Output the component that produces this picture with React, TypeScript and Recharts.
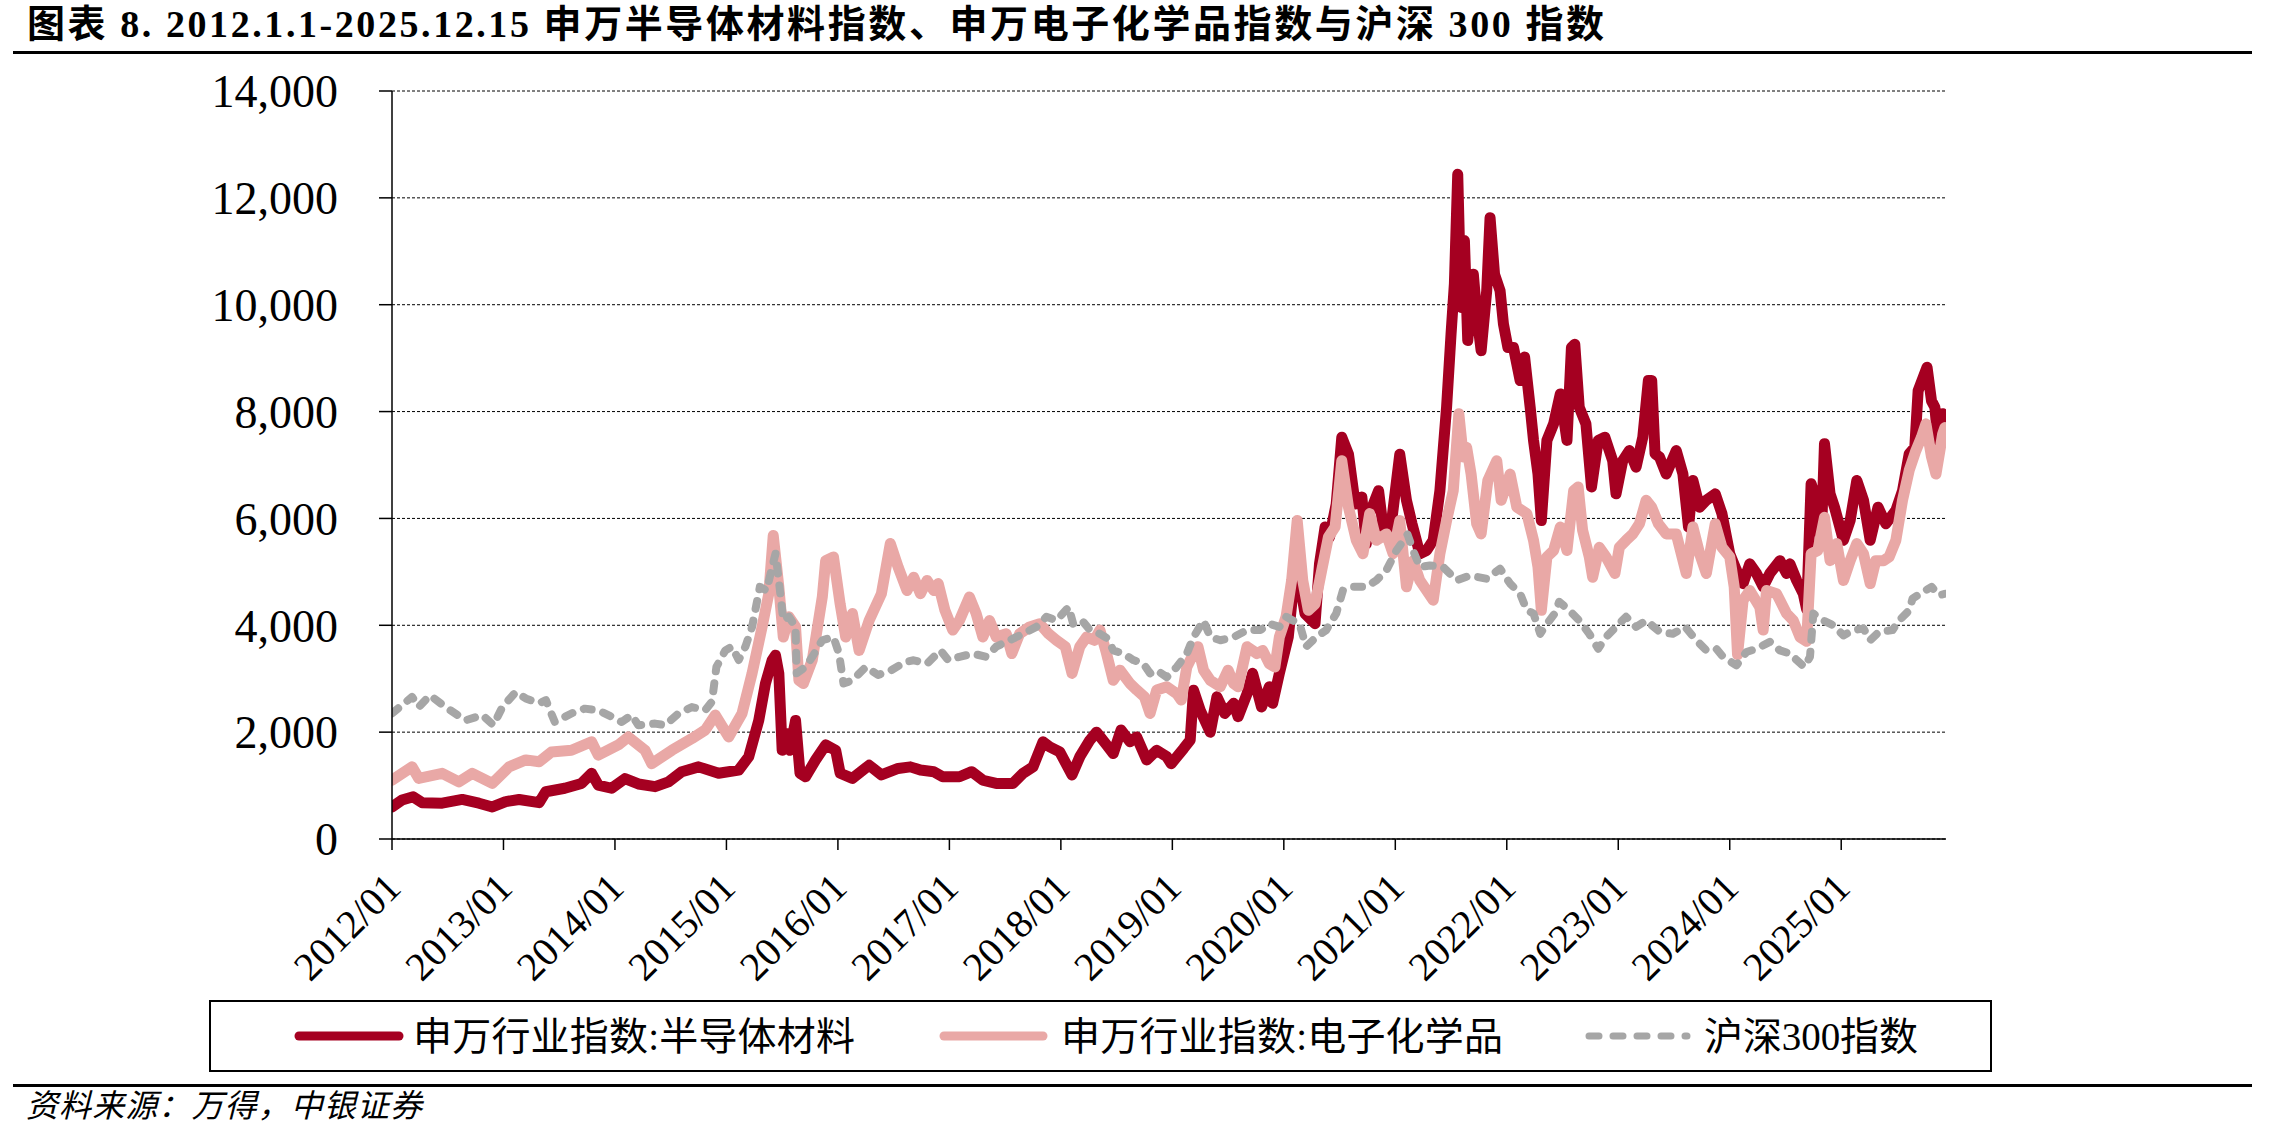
import { LineChart, Line, XAxis, YAxis, CartesianGrid } from 'recharts'

// [fractional year, index level]
const semiMaterials: [number, number][] = [
  [2012.0, 600], [2012.09, 730], [2012.19, 790], [2012.27, 680], [2012.45, 670], [2012.63, 740],
  [2012.78, 670], [2012.9, 600], [2013.02, 700], [2013.14, 740], [2013.32, 680], [2013.38, 885],
  [2013.55, 950], [2013.7, 1040], [2013.79, 1230], [2013.85, 1010], [2013.97, 950], [2014.09, 1130],
  [2014.21, 1030], [2014.36, 980], [2014.48, 1070], [2014.6, 1260], [2014.75, 1350], [2014.93, 1230],
  [2015.11, 1290], [2015.2, 1540], [2015.29, 2220], [2015.35, 2910], [2015.41, 3345], [2015.44, 3440],
  [2015.47, 3100], [2015.5, 1660], [2015.54, 1975], [2015.57, 1660], [2015.62, 2220], [2015.66, 1230],
  [2015.71, 1165], [2015.8, 1480], [2015.89, 1760], [2015.98, 1660], [2016.02, 1230], [2016.13, 1135],
  [2016.28, 1380], [2016.39, 1200], [2016.54, 1320], [2016.65, 1350], [2016.74, 1290], [2016.86, 1260],
  [2016.94, 1165], [2017.09, 1165], [2017.2, 1260], [2017.3, 1100], [2017.42, 1040], [2017.57, 1040],
  [2017.66, 1230], [2017.75, 1350], [2017.84, 1820], [2017.9, 1725], [2017.99, 1630], [2018.1, 1200],
  [2018.17, 1540], [2018.26, 1850], [2018.32, 2000], [2018.41, 1760], [2018.47, 1600], [2018.54, 2040],
  [2018.62, 1820], [2018.68, 1910], [2018.77, 1480], [2018.86, 1660], [2018.95, 1540], [2018.99, 1410],
  [2019.1, 1690], [2019.16, 1850], [2019.19, 2785], [2019.25, 2410], [2019.34, 2000], [2019.4, 2660],
  [2019.47, 2350], [2019.55, 2540], [2019.59, 2290], [2019.67, 2720], [2019.72, 3100], [2019.8, 2470],
  [2019.87, 2850], [2019.9, 2540], [2019.96, 3100], [2020.04, 3780], [2020.08, 4590], [2020.14, 4840],
  [2020.19, 4220], [2020.28, 4030], [2020.32, 5150], [2020.37, 5840], [2020.41, 5650], [2020.47, 6270],
  [2020.52, 7520], [2020.58, 7200], [2020.64, 6270], [2020.7, 6400], [2020.74, 5530], [2020.77, 6090],
  [2020.85, 6520], [2020.89, 5840], [2020.95, 5650], [2021.04, 7200], [2021.1, 6340], [2021.15, 5900],
  [2021.22, 5340], [2021.28, 5400], [2021.34, 5590], [2021.4, 6520], [2021.46, 8080], [2021.5, 9450],
  [2021.53, 10390], [2021.56, 12440], [2021.59, 9950], [2021.62, 11200], [2021.65, 9330], [2021.7, 10570],
  [2021.73, 9830], [2021.77, 9140], [2021.82, 10260], [2021.85, 11630], [2021.89, 10570], [2021.94, 10260],
  [2021.97, 9640], [2022.01, 9200], [2022.06, 9200], [2022.12, 8580], [2022.16, 9020], [2022.21, 8080],
  [2022.24, 7460], [2022.28, 6830], [2022.31, 5960], [2022.36, 7460], [2022.42, 7770], [2022.48, 8330],
  [2022.54, 7460], [2022.58, 9200], [2022.61, 9260], [2022.65, 8080], [2022.71, 7770], [2022.76, 6590],
  [2022.82, 7460], [2022.88, 7520], [2022.95, 7080], [2022.98, 6460], [2023.04, 7080], [2023.1, 7270],
  [2023.16, 6960], [2023.22, 7520], [2023.27, 8580], [2023.3, 8580], [2023.33, 7210], [2023.37, 7150],
  [2023.43, 6830], [2023.52, 7270], [2023.58, 6830], [2023.63, 5840], [2023.67, 6710], [2023.73, 6210],
  [2023.79, 6340], [2023.87, 6460], [2023.93, 6090], [2024.0, 5340], [2024.06, 5030], [2024.12, 4780],
  [2024.18, 5150], [2024.24, 4970], [2024.3, 4720], [2024.36, 4970], [2024.45, 5210], [2024.51, 4970],
  [2024.54, 5150], [2024.6, 4840], [2024.66, 4590], [2024.69, 4300], [2024.73, 6650], [2024.78, 6340],
  [2024.82, 5530], [2024.85, 7400], [2024.9, 6460], [2024.94, 6210], [2025.02, 5590], [2025.08, 5960],
  [2025.14, 6710], [2025.2, 6340], [2025.26, 5590], [2025.33, 6210], [2025.4, 5900], [2025.49, 6150],
  [2025.55, 6520], [2025.61, 7210], [2025.66, 7330], [2025.69, 8390], [2025.77, 8830], [2025.81, 8200],
  [2025.84, 8080], [2025.87, 7400], [2025.91, 7960], [2025.93, 7830],
]

const elecChemicals: [number, number][] = [
  [2012.0, 1100], [2012.18, 1350], [2012.24, 1135], [2012.45, 1230], [2012.6, 1070], [2012.72, 1230],
  [2012.9, 1040], [2013.05, 1350], [2013.2, 1480], [2013.32, 1445], [2013.43, 1630], [2013.61, 1660],
  [2013.79, 1820], [2013.85, 1570], [2014.03, 1760], [2014.12, 1910], [2014.27, 1660], [2014.33, 1410],
  [2014.51, 1660], [2014.69, 1880], [2014.81, 2040], [2014.9, 2320], [2015.02, 1910], [2015.14, 2350],
  [2015.23, 3100], [2015.32, 3970], [2015.38, 4590], [2015.42, 5680], [2015.47, 4720], [2015.51, 3780],
  [2015.56, 4160], [2015.62, 3970], [2015.65, 2970], [2015.69, 2910], [2015.77, 3350], [2015.86, 4530],
  [2015.89, 5210], [2015.96, 5280], [2016.02, 4400], [2016.07, 3780], [2016.13, 4220], [2016.19, 3530],
  [2016.28, 4090], [2016.39, 4590], [2016.47, 5530], [2016.54, 5090], [2016.62, 4650], [2016.68, 4900],
  [2016.74, 4590], [2016.8, 4840], [2016.86, 4650], [2016.9, 4780], [2016.96, 4280], [2017.03, 3910],
  [2017.09, 4090], [2017.18, 4530], [2017.24, 4220], [2017.3, 3780], [2017.36, 4090], [2017.42, 3780],
  [2017.51, 3840], [2017.56, 3470], [2017.63, 3840], [2017.72, 3970], [2017.81, 4030], [2017.89, 3840],
  [2017.96, 3720], [2018.04, 3600], [2018.1, 3100], [2018.17, 3600], [2018.23, 3780], [2018.3, 3720],
  [2018.35, 3910], [2018.41, 3470], [2018.47, 2970], [2018.53, 3160], [2018.62, 2910], [2018.68, 2790],
  [2018.75, 2660], [2018.8, 2350], [2018.86, 2790], [2018.95, 2850], [2019.04, 2720], [2019.08, 2600],
  [2019.13, 3220], [2019.19, 3470], [2019.23, 3600], [2019.28, 3160], [2019.34, 2970], [2019.43, 2850],
  [2019.5, 3160], [2019.55, 2910], [2019.59, 2850], [2019.67, 3600], [2019.76, 3470], [2019.81, 3530],
  [2019.87, 3280], [2019.92, 3220], [2019.96, 3780], [2020.02, 4160], [2020.07, 4840], [2020.12, 5960],
  [2020.17, 4840], [2020.22, 4280], [2020.28, 4400], [2020.34, 5030], [2020.4, 5650], [2020.46, 5840],
  [2020.52, 7080], [2020.58, 6210], [2020.65, 5590], [2020.71, 5340], [2020.77, 6090], [2020.83, 5590],
  [2020.92, 5710], [2020.98, 5340], [2021.04, 5960], [2021.1, 4720], [2021.16, 5210], [2021.22, 4840],
  [2021.34, 4470], [2021.4, 5340], [2021.46, 5960], [2021.52, 6520], [2021.57, 7960], [2021.61, 7150],
  [2021.64, 7330], [2021.68, 6830], [2021.73, 5900], [2021.77, 5710], [2021.83, 6710], [2021.91, 7080],
  [2021.95, 6340], [2022.03, 6830], [2022.09, 6210], [2022.18, 6090], [2022.24, 5590], [2022.28, 5090],
  [2022.31, 4280], [2022.36, 5280], [2022.42, 5400], [2022.48, 5840], [2022.54, 5400], [2022.6, 6520],
  [2022.64, 6590], [2022.68, 5780], [2022.74, 5280], [2022.77, 4900], [2022.83, 5460], [2022.89, 5280],
  [2022.97, 4970], [2023.01, 5460], [2023.07, 5590], [2023.13, 5710], [2023.19, 5900], [2023.25, 6340],
  [2023.3, 6210], [2023.36, 5900], [2023.43, 5710], [2023.52, 5710], [2023.61, 4970], [2023.67, 5840],
  [2023.73, 5340], [2023.79, 4970], [2023.87, 5900], [2023.93, 5460], [2024.0, 5280], [2024.04, 4720],
  [2024.07, 3450], [2024.12, 4470], [2024.18, 4650], [2024.27, 4340], [2024.3, 3910], [2024.33, 4650],
  [2024.42, 4590], [2024.45, 4470], [2024.51, 4220], [2024.57, 4090], [2024.63, 3780], [2024.69, 3700],
  [2024.73, 5340], [2024.79, 5400], [2024.85, 6020], [2024.9, 5210], [2024.96, 5530], [2025.02, 4840],
  [2025.08, 5210], [2025.14, 5530], [2025.2, 5340], [2025.26, 4780], [2025.31, 5210], [2025.38, 5210],
  [2025.43, 5280], [2025.49, 5590], [2025.55, 6340], [2025.61, 6900], [2025.67, 7270], [2025.72, 7520],
  [2025.76, 7770], [2025.81, 7150], [2025.85, 6830], [2025.91, 7580], [2025.93, 7700],
]

const csi300: [number, number][] = [
  [2012.0, 2350], [2012.18, 2660], [2012.24, 2470], [2012.34, 2690], [2012.48, 2470], [2012.66, 2220],
  [2012.81, 2320], [2012.91, 2130], [2012.99, 2470], [2013.11, 2750], [2013.2, 2630], [2013.32, 2540],
  [2013.38, 2600], [2013.46, 2190], [2013.61, 2350], [2013.73, 2440], [2013.85, 2410], [2013.97, 2290],
  [2014.06, 2190], [2014.15, 2320], [2014.21, 2130], [2014.36, 2160], [2014.45, 2130], [2014.57, 2350],
  [2014.69, 2470], [2014.81, 2410], [2014.87, 2570], [2014.91, 3220], [2014.99, 3530], [2015.05, 3600],
  [2015.11, 3350], [2015.17, 3600], [2015.23, 3970], [2015.3, 4720], [2015.36, 4650], [2015.41, 5090],
  [2015.44, 5340], [2015.47, 4840], [2015.51, 4090], [2015.56, 4160], [2015.62, 3970], [2015.63, 3100],
  [2015.71, 3220], [2015.77, 3410], [2015.86, 3720], [2015.96, 3780], [2016.01, 3470], [2016.05, 2910],
  [2016.13, 2970], [2016.25, 3220], [2016.36, 3070], [2016.48, 3160], [2016.6, 3310], [2016.68, 3345],
  [2016.8, 3283], [2016.92, 3530], [2016.99, 3345], [2017.09, 3410], [2017.21, 3470], [2017.33, 3410],
  [2017.42, 3600], [2017.54, 3720], [2017.66, 3840], [2017.78, 3970], [2017.87, 4160], [2017.96, 4090],
  [2018.07, 4340], [2018.11, 4030], [2018.19, 4090], [2018.26, 3910], [2018.35, 3840], [2018.42, 3750],
  [2018.47, 3530], [2018.56, 3470], [2018.65, 3350], [2018.74, 3280], [2018.8, 3100], [2018.86, 3160],
  [2018.95, 3030], [2019.04, 3220], [2019.13, 3470], [2019.19, 3780], [2019.28, 4090], [2019.34, 3780],
  [2019.43, 3720], [2019.55, 3780], [2019.67, 3910], [2019.79, 3910], [2019.87, 4030], [2019.96, 3970],
  [2020.02, 4160], [2020.08, 4090], [2020.14, 4030], [2020.2, 3600], [2020.29, 3780], [2020.38, 3910],
  [2020.47, 4220], [2020.53, 4650], [2020.62, 4720], [2020.74, 4720], [2020.83, 4840], [2020.92, 5030],
  [2021.01, 5400], [2021.11, 5700], [2021.16, 5400], [2021.22, 5090], [2021.31, 5120], [2021.43, 5090],
  [2021.55, 4840], [2021.67, 4930], [2021.82, 4870], [2021.94, 5060], [2022.03, 4780], [2022.12, 4590],
  [2022.18, 4280], [2022.24, 4220], [2022.3, 3840], [2022.35, 4000], [2022.43, 4220], [2022.47, 4440],
  [2022.56, 4280], [2022.65, 4090], [2022.74, 3840], [2022.82, 3560], [2022.89, 3780], [2022.98, 3970],
  [2023.07, 4160], [2023.16, 3970], [2023.25, 4090], [2023.37, 3880], [2023.49, 3840], [2023.6, 3970],
  [2023.7, 3720], [2023.79, 3530], [2023.88, 3560], [2023.94, 3410], [2024.06, 3250], [2024.15, 3500],
  [2024.24, 3560], [2024.36, 3690], [2024.45, 3530], [2024.54, 3470], [2024.6, 3350], [2024.67, 3220],
  [2024.72, 3410], [2024.75, 4220], [2024.84, 4090], [2024.93, 4000], [2025.02, 3810], [2025.11, 3910],
  [2025.2, 3940], [2025.26, 3720], [2025.34, 3880], [2025.46, 3910], [2025.52, 4090], [2025.61, 4280],
  [2025.64, 4500], [2025.73, 4620], [2025.81, 4720], [2025.88, 4560], [2025.93, 4590],
]

const yearTicks = [2012, 2013, 2014, 2015, 2016, 2017, 2018, 2019, 2020, 2021, 2022, 2023, 2024, 2025]
const valueTicks = [0, 2000, 4000, 6000, 8000, 10000, 12000, 14000]

const seriesNames = ['申万行业指数:半导体材料', '申万行业指数:电子化学品', '沪深300指数']
const TITLE = '图表 8. 2012.1.1-2025.12.15 申万半导体材料指数、申万电子化学品指数与沪深 300 指数'
const SOURCE = '资料来源：万得，中银证券'

const RED = '#A50021'
const PINK = '#E9A8A6'
const GRAY = '#A6A6A6'
const SERIF = '"Liberation Serif", "Times New Roman", "Noto Sans CJK SC", serif'

const toRows = (pts: [number, number][]) => pts.map(([t, v]) => ({ t, v }))

function YearTick({ x, y, payload }: any) {
  return (
    <g transform={`translate(${x + 11},${y + 40}) rotate(-45)`}>
      <text textAnchor="end" fontSize={40} fontFamily={SERIF} fill="#000">
        {`${payload.value}/01`}
      </text>
    </g>
  )
}

export default function App() {
  return (
    <div style={{ position: 'absolute', left: 0, top: 0, width: 2293, height: 1145, background: '#fff' }}>
      <LineChart width={2293} height={1145} margin={{ top: 91, right: 347, bottom: 156, left: 212 }}>
        <CartesianGrid vertical={false} stroke="#000" strokeDasharray="3 2" strokeWidth={1} />
        <XAxis
          dataKey="t"
          type="number"
          domain={[2012, 2025.94]}
          ticks={yearTicks}
          interval={0}
          allowDataOverflow
          height={150}
          tickSize={11}
          tickMargin={0}
          axisLine={{ stroke: '#000', strokeWidth: 1.5 }}
          tickLine={{ stroke: '#000', strokeWidth: 1.5 }}
          tick={<YearTick />}
        />
        <YAxis
          type="number"
          domain={[0, 14000]}
          ticks={valueTicks}
          interval={0}
          width={180}
          tickSize={13}
          tickMargin={41}
          axisLine={{ stroke: '#000', strokeWidth: 1.5 }}
          tickLine={{ stroke: '#000', strokeWidth: 1.5 }}
          tick={{ fill: '#000', fontSize: 46, fontFamily: SERIF }}
          tickFormatter={(v: number) => v.toLocaleString('en-US')}
        />
        <Line
          data={toRows(semiMaterials)}
          dataKey="v"
          name={seriesNames[0]}
          type="linear"
          stroke={RED}
          strokeWidth={11}
          strokeLinejoin="round"
          strokeLinecap="round"
          dot={false}
          isAnimationActive={false}
        />
        <Line
          data={toRows(elecChemicals)}
          dataKey="v"
          name={seriesNames[1]}
          type="linear"
          stroke={PINK}
          strokeWidth={11}
          strokeLinejoin="round"
          strokeLinecap="round"
          dot={false}
          isAnimationActive={false}
        />
        <Line
          data={toRows(csi300)}
          dataKey="v"
          name={seriesNames[2]}
          type="linear"
          stroke={GRAY}
          strokeWidth={8}
          strokeDasharray="8 12"
          strokeLinejoin="round"
          strokeLinecap="round"
          dot={false}
          isAnimationActive={false}
        />
      </LineChart>

      {/* title, legend box and source note */}
      <svg
        width={2293}
        height={1145}
        style={{ position: 'absolute', left: 0, top: 0, pointerEvents: 'none' }}
      >
        <text x={27} y={37} fontSize={38} fontWeight="bold" fontFamily={SERIF} fill="#000"
          textLength={1577} lengthAdjust="spacing">
          {TITLE}
        </text>
        <rect x={13} y={51} width={2239} height={3} fill="#000" />

        <rect x={210} y={1001} width={1781} height={70} fill="none" stroke="#000" strokeWidth={2} />
        <line x1={299} y1={1036} x2={399} y2={1036} stroke={RED} strokeWidth={9} strokeLinecap="round" />
        <text x={413} y={1050} fontSize={39} fontFamily={SERIF} fill="#000" textLength={442} lengthAdjust="spacing">
          {seriesNames[0]}
        </text>
        <line x1={944} y1={1036} x2={1043} y2={1036} stroke={PINK} strokeWidth={9} strokeLinecap="round" />
        <text x={1061} y={1050} fontSize={39} fontFamily={SERIF} fill="#000" textLength={442} lengthAdjust="spacing">
          {seriesNames[1]}
        </text>
        <line x1={1589} y1={1036} x2={1687} y2={1036} stroke={GRAY} strokeWidth={7}
          strokeDasharray="10 14" strokeLinecap="round" />
        <text x={1704} y={1050} fontSize={39} fontFamily={SERIF} fill="#000" textLength={214} lengthAdjust="spacing">
          {seriesNames[2]}
        </text>

        <rect x={13} y={1084} width={2239} height={3} fill="#000" />
        <text x={26} y={1117} fontSize={32} fontStyle="italic" fontFamily={SERIF} fill="#000"
          textLength={396} lengthAdjust="spacing">
          {SOURCE}
        </text>
      </svg>
    </div>
  )
}
